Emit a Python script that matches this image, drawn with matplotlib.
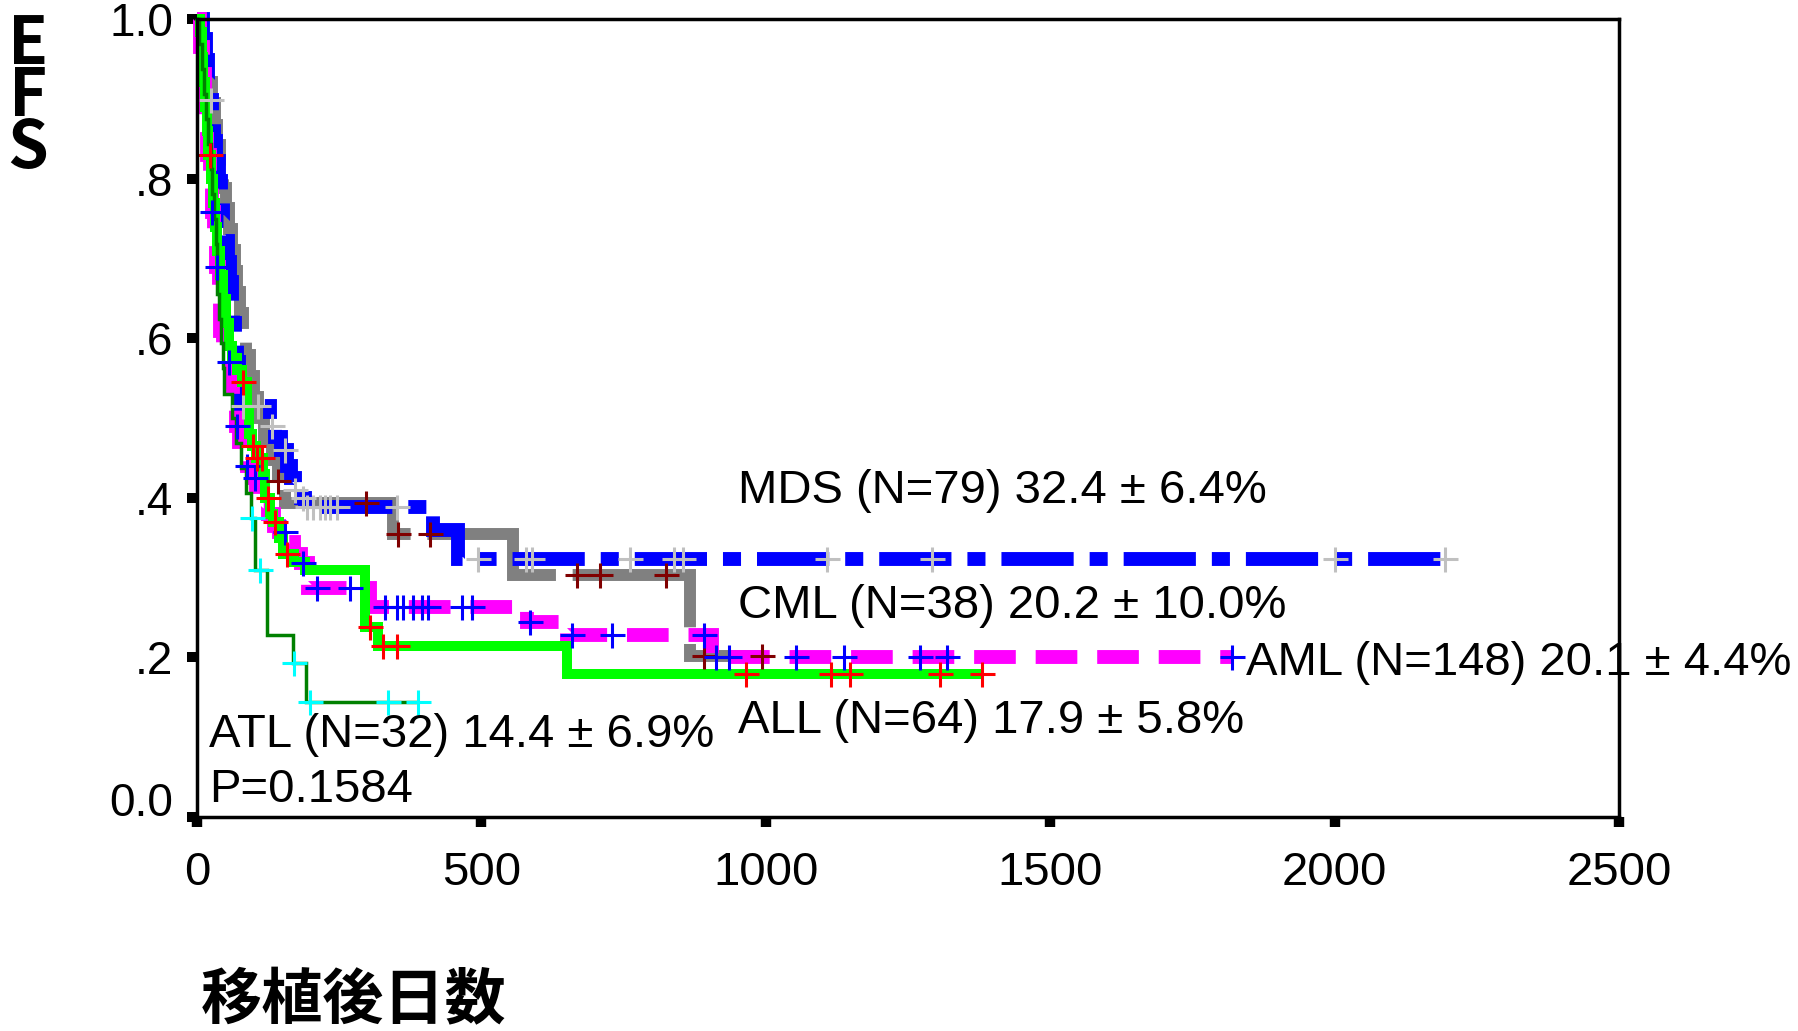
import numpy as np
import matplotlib.pyplot as plt
from matplotlib.transforms import ScaledTranslation

plt.rcParams['font.family'] = ['Liberation Sans', 'DejaVu Sans']

# event-free survival curves (day, survival after the step); last point = end of follow-up
mds_t = [0, 10, 15, 19, 22, 26, 30, 34, 38, 42, 46, 50, 54, 58, 61, 64, 67, 70, 73, 76,
         128, 137, 148, 158, 166, 172, 182, 190, 415, 459, 2195]
mds_s = [1.0, .975, .949, .924, .899, .873, .848, .823, .797, .772, .747, .722, .696, .671, .646, .62,
         .595, .57, .544, .515, .49, .477, .46, .44, .425, .41, .40, .389, .36, .324, .324]
mds_cens = [24, 81, 107, 132, 155, 172, 187, 193, 204, 216, 225, 234, 246, 352, 494, 578, 589,
            761, 838, 855, 1108, 1293, 2000, 2195]

cml_t = [0, 8, 14, 20, 26, 31, 36, 41, 46, 51, 56, 61, 66, 71, 76, 81, 87, 93, 100, 108,
         118, 132, 142, 155, 345, 556, 867, 993]
cml_s = [1.0, .974, .947, .921, .895, .868, .842, .816, .789, .763, .737, .711, .684, .658, .632,
         .605, .579, .553, .526, .50, .474, .447, .421, .394, .355, .303, .202, .202]
cml_cens = [142, 298, 353, 410, 668, 708, 824, 891, 993]

aml_t = [0, 6, 10, 14, 18, 22, 26, 30, 34, 38, 41, 45, 50, 56, 60, 64, 68, 74, 80, 88, 96,
         104, 115, 125, 135, 145, 160, 170, 182, 196, 305, 580, 650, 905, 1820]
aml_s = [1.0, .966, .932, .878, .83, .79, .758, .72, .69, .65, .61, .59, .575, .57, .545, .52,
         .49, .47, .455, .44, .425, .40, .39, .38, .365, .357, .345, .33, .318, .287, .263, .245,
         .228, .201, .201]
aml_cens = [26, 36, 56, 70, 88, 102, 155, 187, 211, 269, 330, 352, 362, 380, 396, 406, 466, 483,
            585, 659, 729, 891, 912, 935, 1053, 1137, 1271, 1318, 1820]

all_t = [0, 5, 8, 11, 14, 17, 20, 24, 28, 32, 36, 41, 46, 51, 56, 62, 70, 80, 88, 92, 96, 104,
         116, 120, 128, 134, 145, 152, 170, 190, 296, 318, 650, 1380]
all_s = [1.0, .984, .953, .922, .89, .86, .83, .80, .77, .74, .71, .68, .65, .62, .59, .575, .56,
         .545, .51, .48, .465, .45, .43, .40, .38, .37, .35, .33, .32, .31, .238, .214, .179, .179]
all_cens = [22, 81, 98, 105, 114, 125, 137, 158, 304, 327, 352, 965, 1115, 1148, 1306, 1380]

atl_t = [0, 4, 8, 12, 16, 20, 24, 27, 30, 33, 36, 39, 42, 45, 48, 62, 68, 78, 86, 95, 102,
         123, 169, 192, 389]
atl_s = [1.0, .969, .938, .906, .875, .844, .813, .781, .75, .719, .656, .625, .594, .563, .531,
         .50, .469, .438, .406, .375, .31, .228, .193, .144, .144]
atl_cens = [97, 111, 171, 199, 336, 389]

labels = ['MDS (N=79) 32.4 ± 6.4%', 'CML (N=38) 20.2 ± 10.0%', 'AML (N=148) 20.1 ± 4.4%',
          'ALL (N=64) 17.9 ± 5.8%', 'ATL (N=32) 14.4 ± 6.9%']
p_text = 'P=0.1584'
xticks = [0, 500, 1000, 1500, 2000, 2500]
yticks = [0.0, 0.2, 0.4, 0.6, 0.8, 1.0]
ytick_labels = ['0.0', '.2', '.4', '.6', '.8', '1.0']


def surv_at(t, s, days):
    idx = np.searchsorted(t, days, side='right') - 1
    return np.asarray(s)[idx]


fig = plt.figure(figsize=(17.99, 10.31), dpi=100)
ax = fig.add_axes([0.1095, 0.2076, 0.7904, 0.7735])

curves = [
    # t, s, censored, line colour, mark colour, lw, linestyle, zorder
    (cml_t, cml_s, cml_cens, '#808080', '#800000', 8.6, (0, (14.2, 1.4)), 3),
    (mds_t, mds_s, mds_cens, '#0000ff', '#c0c0c0', 10.0, (0, (5.2, 1.15, 1.3, 1.15)), 4),
    (aml_t, aml_s, aml_cens, '#ff00ff', '#0000ff', 10.0, (0, (3.0, 1.43)), 5),
    (all_t, all_s, all_cens, '#00ff00', '#ff0000', 7.2, '-', 6),
    (atl_t, atl_s, atl_cens, '#008000', '#00ffff', 2.5, '-', 7),
]

for t, s, cens, lc, mc, lw, ls, z in curves:
    ax.plot(t, s, drawstyle='steps-post', color=lc, lw=lw, linestyle=ls,
            dash_capstyle='butt', dash_joinstyle='miter', solid_joinstyle='miter',
            solid_capstyle='butt', zorder=z, clip_on=False)

for t, s, cens, lc, mc, lw, ls, z in curves:
    ax.plot(cens, surv_at(t, s, cens), linestyle='none', marker='+', color=mc,
            markersize=18, markeredgewidth=2.2, zorder=z + 10, clip_on=False)

ax.set_xlim(0, 2500)
ax.set_ylim(0, 1.0)
ax.set_xticks(xticks)
ax.set_xticklabels([str(v) for v in xticks])
ax.set_yticks(yticks)
ax.set_yticklabels(ytick_labels)

for sp in ax.spines.values():
    sp.set_linewidth(2.5)
    sp.set_zorder(30)
ax.tick_params(axis='y', direction='out', length=7.2, width=7.2, pad=10, labelsize=33)
ax.tick_params(axis='x', direction='out', length=7.5, width=7.5, pad=17, labelsize=34)

# the lowest y label sits a bit higher than its tick
lbl0 = ax.get_yticklabels()[0]
lbl0.set_transform(lbl0.get_transform() + ScaledTranslation(0, 13 / 72, fig.dpi_scale_trans))

text_pos = [(952, 0.394), (952, 0.249), (1844, 0.178), (952, 0.105), (21, 0.088)]
for (x, y), txt in zip(text_pos, labels):
    ax.text(x, y, txt, fontsize=34, ha='left', va='baseline', zorder=20, clip_on=False)
ax.text(21, 0.019, p_text, fontsize=34, ha='left', va='baseline', zorder=20)

cjk = ['Noto Sans CJK JP', 'DejaVu Sans']
# stacked y-axis title (baseline = last line)
fig.text(28 / 1799, 1 - 168 / 1031, 'E\nF\nS', family=cjk, weight='bold', fontsize=47,
         ha='center', va='baseline', multialignment='center', linespacing=0.72)
fig.text(201 / 1799, 1 - 1002 / 1031, '移植後日数', family=cjk, weight='bold', fontsize=44,
         ha='left', va='center')

fig.savefig('out.png', dpi=100)
